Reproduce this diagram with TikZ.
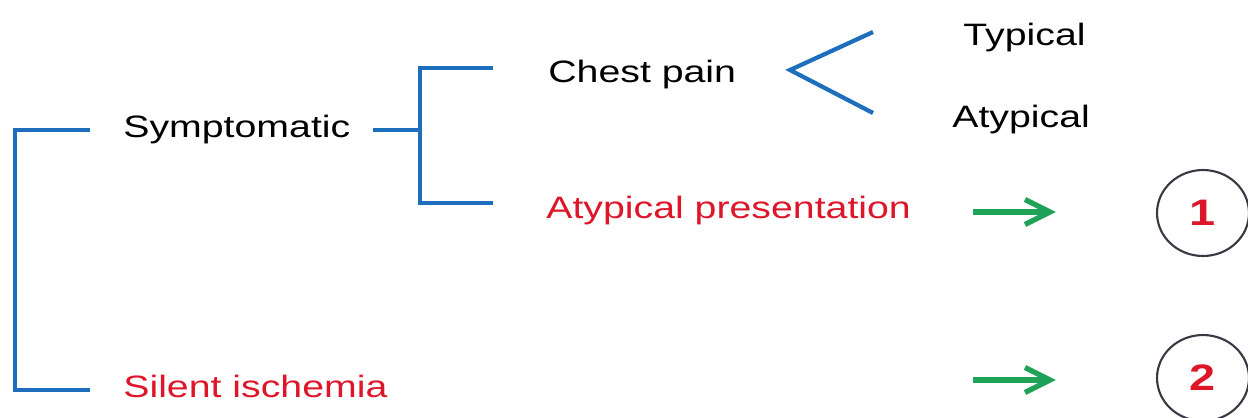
\documentclass[tikz,border=0pt]{standalone}
\usepackage{fontspec}
\setmainfont[FakeStretch=1.27]{Liberation Sans}
\usepackage{xcolor}
\usetikzlibrary{shapes.geometric,arrows.meta,positioning,calc}

\definecolor{brblue}{RGB}{30,110,190}
\definecolor{txred}{RGB}{222,22,42}
\definecolor{argreen}{RGB}{30,162,88}
\definecolor{ringgray}{RGB}{55,58,68}

\begin{document}
\begin{tikzpicture}[
    x=0.02cm, y=-0.02cm,
    lbl/.style={anchor=base west, inner sep=0, font=\fontsize{17.6}{20}\selectfont},
    bracket/.style={draw=brblue, line width=2.4pt},
    goarrow/.style={draw=argreen, line width=3pt, -{Straight Barb[length=0.5cm, width=0.5cm]}},
    ring/.style={ellipse, draw=ringgray, line width=1.2pt, minimum width=1.84cm, minimum height=1.72cm, inner sep=0, text=txred, font=\fontsize{21}{22}\selectfont\bfseries},
]
\useasboundingbox (0,0) rectangle (1248,417);

% texts
\node[lbl] (sym)    at (123,137) {Symptomatic};
\node[lbl, text=txred] (silent) at (123,397) {Silent ischemia};
\node[lbl] (chest)  at (548,82)  {Chest pain};
\node[lbl, text=txred] (atpres) at (546,218) {Atypical presentation};
\node[lbl] (typ)    at (963,45)  {Typical};
\node[lbl] (atyp)   at (952,127) {Atypical};

% numbered rings
\node[ring] (one) at (1203,213) {1};
\node[ring] (two) at (1203,378) {2};

% bracket points
\coordinate (symL)  at (90,130);
\coordinate (silL)  at (90,390);
\coordinate (symR)  at (373,130);
\coordinate (fork)  at (420,130);
\coordinate (chestL) at (493,68);
\coordinate (presL) at (493,203);
\coordinate (vtx)   at (790,70);
\coordinate (typE)  at (873,32);
\coordinate (atypE) at (873,113);
\coordinate (a1) at (973,212);
\coordinate (a2) at (973,380);

\draw[bracket] (symL) -- ++(-75,0) |- (silL);
\draw[bracket] (symR) -- (fork);
\draw[bracket] (chestL) -- ++(-73,0) |- (presL);
\draw[bracket] (typE) -- (vtx) -- (atypE);

\draw[goarrow] (a1) -- ($(one.west)+(-100,-1)$);
\draw[goarrow] (a2) -- ($(two.west)+(-100,2)$);
\end{tikzpicture}
\end{document}
